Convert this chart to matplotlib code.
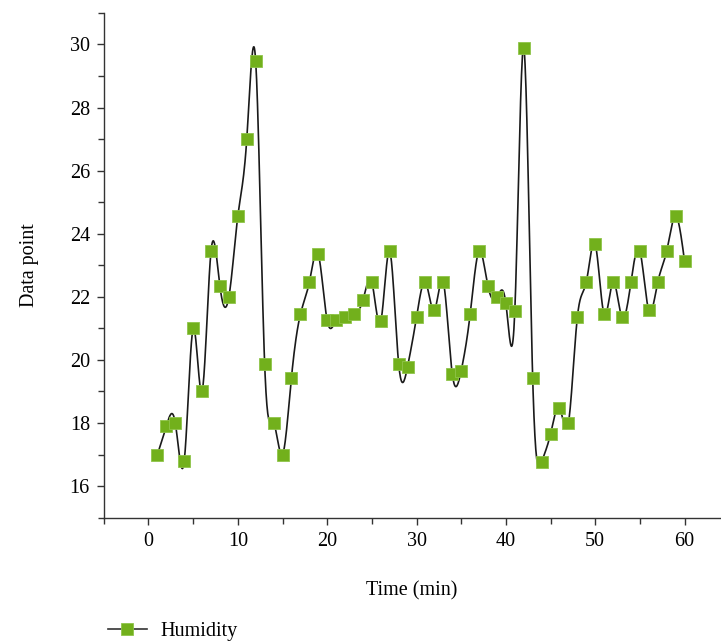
import numpy as np
import matplotlib.pyplot as plt
from matplotlib.ticker import MultipleLocator
from matplotlib.lines import Line2D

plt.rcParams['font.family'] = ['Liberation Serif', 'DejaVu Serif']

# humidity readings, one per minute
minutes = list(range(1, 61))
humidity = [
    17.0, 17.9, 18.0, 16.8, 21.0, 19.0, 23.45, 22.33, 22.0, 24.56,
    27.0, 29.46, 19.88, 18.0, 17.0, 19.44, 21.44, 22.46, 23.35, 21.25,
    21.25, 21.35, 21.44, 21.89, 22.46, 21.22, 23.45, 19.88, 19.79, 21.35,
    22.46, 21.57, 22.46, 19.56, 19.66, 21.44, 23.45, 22.33, 21.98, 21.79,
    21.54, 29.9, 19.44, 16.76, 17.65, 18.48, 18.0, 21.35, 22.46, 23.67,
    21.44, 22.46, 21.35, 22.46, 23.45, 21.57, 22.46, 23.45, 24.56, 23.13,
]


def natural_spline(x, y, n=20):
    # natural cubic spline through the points, sampled n times per interval
    x = np.asarray(x, float)
    y = np.asarray(y, float)
    m = len(x)
    h = np.diff(x)
    A = np.zeros((m, m))
    b = np.zeros(m)
    A[0, 0] = A[-1, -1] = 1.0
    for i in range(1, m - 1):
        A[i, i - 1] = h[i - 1]
        A[i, i] = 2 * (h[i - 1] + h[i])
        A[i, i + 1] = h[i]
        b[i] = 6 * ((y[i + 1] - y[i]) / h[i] - (y[i] - y[i - 1]) / h[i - 1])
    M = np.linalg.solve(A, b)
    xs, ys = [], []
    for i in range(m - 1):
        t = np.linspace(x[i], x[i + 1], n, endpoint=False)
        a = x[i + 1] - t
        c = t - x[i]
        s = (M[i] * a**3 + M[i + 1] * c**3) / (6 * h[i]) \
            + (y[i] / h[i] - M[i] * h[i] / 6) * a \
            + (y[i + 1] / h[i] - M[i + 1] * h[i] / 6) * c
        xs.append(t)
        ys.append(s)
    xs.append([x[-1]])
    ys.append([y[-1]])
    return np.concatenate(xs), np.concatenate(ys)


green = '#72b01c'
fig = plt.figure(figsize=(7.21, 6.43), dpi=100)
ax = fig.add_axes([0.144, 0.195, 0.855, 0.785])

sx, sy = natural_spline(minutes, humidity)
ax.plot(sx, sy, color='#1a1a1a', lw=1.2, zorder=2)
ax.plot(minutes, humidity, ls='none', marker='s', ms=8.6,
        mfc=green, mec='#8fc44a', mew=0.6, zorder=3)

ax.set_xlim(-5, 64)
ax.set_ylim(15, 31)
ax.xaxis.set_major_locator(MultipleLocator(10))
ax.xaxis.set_minor_locator(MultipleLocator(5))
ax.yaxis.set_major_locator(MultipleLocator(2))
ax.yaxis.set_minor_locator(MultipleLocator(1))
ax.spines['top'].set_visible(False)
ax.spines['right'].set_visible(False)
for sp in ('left', 'bottom'):
    ax.spines[sp].set_color('#333333')
    ax.spines[sp].set_linewidth(1.0)
ax.tick_params(which='major', direction='out', length=5, width=1,
               color='#333333', labelsize=14.5, pad=5)
ax.tick_params(which='minor', direction='out', length=4, width=1,
               color='#333333')

ax.set_xlabel('Time (min)', fontsize=14.5, labelpad=22)
ax.set_ylabel('Data point', fontsize=14.5, labelpad=22)

handle = Line2D([], [], color='#333333', lw=1.2, marker='s', ms=8.6,
                mfc=green, mec='#8fc44a', mew=0.6)
fig.legend([handle], ['Humidity'], loc='lower left',
           bbox_to_anchor=(0.125, -0.025), frameon=False, fontsize=14.5,
           handlelength=1.9, handletextpad=0.7)

fig.savefig('out.png', dpi=100)
